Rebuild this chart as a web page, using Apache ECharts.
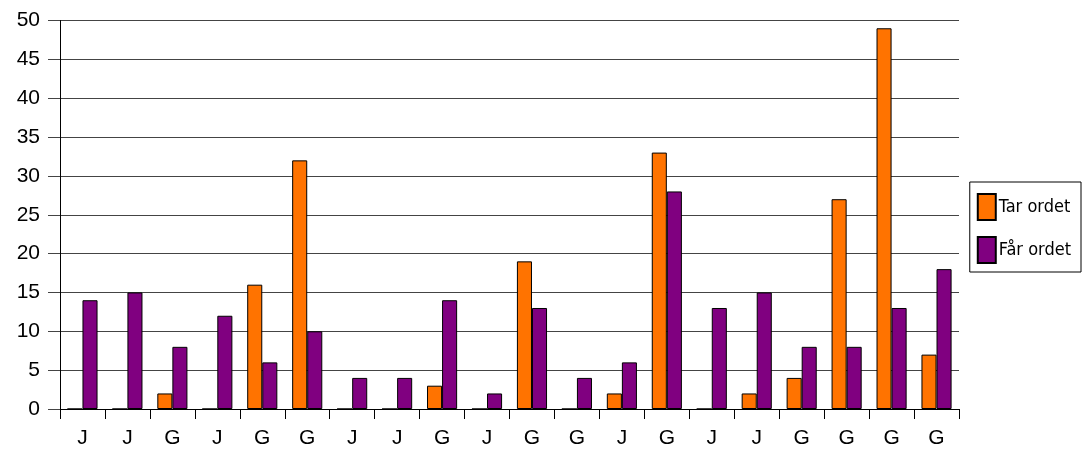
<!DOCTYPE html>
<html>
<head>
<meta charset="utf-8">
<script src="https://cdn.jsdelivr.net/npm/echarts@6/dist/echarts.min.js"></script>
<style>
  html, body { margin: 0; padding: 0; background: #fff; }
  #chart { width: 1082px; height: 450px; }
</style>
</head>
<body>
<div id="chart"></div>
<script>
// Speaker categories along the x axis
const categories = ['J','J','G','J','G','G','J','J','G','J','G','G','J','G','J','J','G','G','G','G'];
// Counts per speaker
const tarOrdet = [0,0,2,0,16,32,0,0,3,0,19,0,2,33,0,2,4,27,49,7];
const farOrdet = [14,15,8,12,6,10,4,4,14,2,13,4,6,28,13,15,8,8,13,18];
const seriesNames = ['Tar ordet', 'Får ordet'];
const yTicks = { min: 0, max: 50, interval: 5 };

const chart = echarts.init(document.getElementById('chart'), null, { renderer: 'canvas' });
const font = '"Liberation Sans", Arial, sans-serif';

chart.setOption({
  animation: false,
  backgroundColor: '#fff',
  grid: { left: 60, right: 123, top: 20.5, bottom: 41 },
  legend: {
    orient: 'vertical',
    right: 1,
    top: 182,
    padding: [11, 10, 8, 7],
    itemGap: 15,
    itemWidth: 18,
    itemHeight: 26,
    borderColor: '#000',
    borderWidth: 1,
    icon: 'rect',
    textStyle: { fontFamily: '"DejaVu Sans Condensed", "Liberation Sans Narrow", "Liberation Sans", sans-serif', fontSize: 18, color: '#000', padding: [0, 0, 0, -2] },
    data: seriesNames
  },
  xAxis: {
    type: 'category',
    data: categories,
    boundaryGap: true,
    axisLine: { lineStyle: { color: '#000', width: 1 } },
    axisTick: { show: true, length: 10, lineStyle: { color: '#000' } },
    axisLabel: { color: '#000', fontSize: 21, fontFamily: font, margin: 19 },
    splitLine: { show: false }
  },
  yAxis: {
    type: 'value',
    min: yTicks.min,
    max: yTicks.max,
    interval: yTicks.interval,
    axisLine: { show: true, lineStyle: { color: '#000', width: 1 } },
    axisTick: { show: true, length: 12, lineStyle: { color: '#444' } },
    axisLabel: { color: '#000', fontSize: 21, fontFamily: font, margin: 20 },
    splitLine: { show: true, lineStyle: { color: '#444', width: 1.2 } }
  },
  series: [
    {
      name: seriesNames[0],
      type: 'bar',
      data: tarOrdet,
      barGap: '0%',
      barCategoryGap: '33%',
      itemStyle: { color: '#ff7300', borderColor: '#000', borderWidth: 1 }
    },
    {
      name: seriesNames[1],
      type: 'bar',
      data: farOrdet,
      itemStyle: { color: '#800080', borderColor: '#000', borderWidth: 1 }
    }
  ]
});
</script>
</body>
</html>
